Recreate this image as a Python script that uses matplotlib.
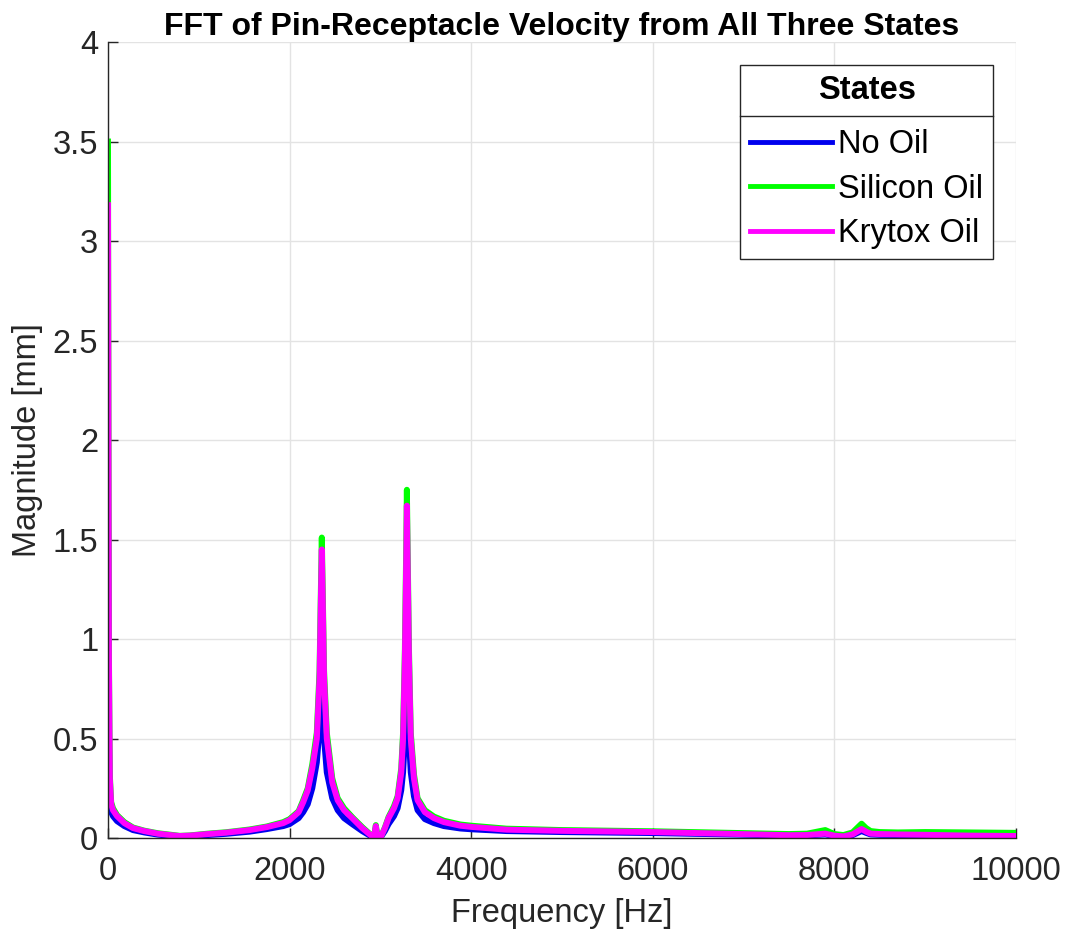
import numpy as np
import matplotlib.pyplot as plt
from matplotlib.lines import Line2D

plt.rcParams['font.family'] = ['Liberation Sans', 'DejaVu Sans']

# frequency points [Hz] (shared by the three states)
freq = [0, 10, 20, 35, 55, 100, 180, 275, 400, 550, 700, 790, 900, 1100, 1300,
        1560, 1750, 1930, 2000, 2100, 2150, 2200, 2250, 2300, 2330, 2345, 2355,
        2365, 2380, 2410, 2470, 2530, 2600, 2690, 2800, 2900, 2930, 2950, 2970,
        3000, 3050, 3090, 3150, 3190, 3230, 3250, 3270, 3285, 3292, 3300, 3315,
        3335, 3370, 3410, 3490, 3590, 3700, 3880, 4000, 4390, 5000, 6000, 6960,
        7500, 7700, 7900, 8000, 8100, 8200, 8300, 8350, 8400, 8500, 8700, 9000,
        9500, 10000]

# magnitudes [mm]
no_oil = [1.72, 0.5, 0.2, 0.13, 0.11, 0.085, 0.06, 0.04, 0.028, 0.017, 0.01, 0.007,
          0.008, 0.015, 0.021, 0.032, 0.045, 0.06, 0.07, 0.1, 0.13, 0.17, 0.25, 0.38,
          0.55, 0.8, 1.0, 0.8, 0.5, 0.33, 0.2, 0.14, 0.1, 0.07, 0.035, 0.008, 0.0,
          0.05, 0.0, 0.0, 0.035, 0.07, 0.11, 0.15, 0.24, 0.33, 0.5, 0.75, 0.9,
          0.75, 0.5, 0.33, 0.21, 0.14, 0.095, 0.075, 0.06, 0.048, 0.044, 0.035,
          0.03, 0.025, 0.017, 0.012, 0.013, 0.018, 0.01, 0.006, 0.014, 0.035,
          0.026, 0.018, 0.016, 0.015, 0.013, 0.01, 0.008]
silicon_oil = [3.5, 0.95, 0.32, 0.18, 0.15, 0.115, 0.08, 0.053, 0.037, 0.024, 0.016,
               0.011, 0.013, 0.022, 0.029, 0.043, 0.058, 0.08, 0.095, 0.135, 0.19,
               0.25, 0.37, 0.53, 0.84, 1.25, 1.51, 1.25, 0.84, 0.53, 0.3, 0.2, 0.15,
               0.105, 0.055, 0.014, 0.0, 0.065, 0.0, 0.0, 0.053, 0.105, 0.16, 0.21,
               0.35, 0.53, 0.95, 1.47, 1.75, 1.47, 0.95, 0.53, 0.32, 0.2, 0.14, 0.108,
               0.087, 0.068, 0.062, 0.047, 0.04, 0.034, 0.025, 0.02, 0.022, 0.04,
               0.02, 0.015, 0.028, 0.072, 0.05, 0.035, 0.03, 0.028, 0.03, 0.028, 0.026]
krytox_oil = [3.18, 0.9, 0.3, 0.17, 0.14, 0.11, 0.075, 0.05, 0.035, 0.022, 0.014, 0.01,
              0.012, 0.02, 0.027, 0.04, 0.055, 0.075, 0.09, 0.13, 0.18, 0.24, 0.35,
              0.5, 0.8, 1.2, 1.45, 1.2, 0.8, 0.5, 0.28, 0.19, 0.14, 0.1, 0.05, 0.012,
              0.0, 0.06, 0.0, 0.0, 0.05, 0.1, 0.15, 0.2, 0.33, 0.5, 0.9, 1.4, 1.67,
              1.4, 0.9, 0.5, 0.3, 0.19, 0.13, 0.1, 0.08, 0.062, 0.056, 0.042, 0.036,
              0.03, 0.02, 0.014, 0.015, 0.022, 0.012, 0.008, 0.018, 0.045, 0.032,
              0.022, 0.02, 0.018, 0.016, 0.012, 0.01]

fig = plt.figure(figsize=(10.66, 9.30), dpi=100)
ax = fig.add_axes([0.1013, 0.0989, 0.8517, 0.8559])

ax.plot(freq, no_oil, color='#0000ee', lw=4.3, label='No Oil')
ax.plot(freq, silicon_oil, color='#00ff00', lw=4.3, label='Silicon Oil')
ax.plot(freq, krytox_oil, color='#ff00ff', lw=4.3, label='Krytox Oil')

ax.set_xlim(0, 10000)
ax.set_ylim(0, 4)
ax.set_xticks(np.arange(0, 10001, 2000))
ax.set_yticks(np.arange(0, 4.01, 0.5))
ax.set_yticklabels(['0', '0.5', '1', '1.5', '2', '2.5', '3', '3.5', '4'])
ax.grid(True, color='#e3e3e3', lw=1)
ax.set_axisbelow(True)
for s in ['top', 'right']:
    ax.spines[s].set_visible(False)
for s in ['left', 'bottom']:
    ax.spines[s].set_color('#262626')
    ax.spines[s].set_linewidth(1)
ax.tick_params(direction='in', length=7, width=1, colors='#262626',
               labelsize=23.5, labelcolor='#262626')
ax.tick_params(axis='x', pad=13)
ax.tick_params(axis='y', pad=7)

ax.set_xlabel('Frequency [Hz]', fontsize=23.5, color='#262626', labelpad=8)
ax.set_ylabel('Magnitude [mm]', fontsize=23.5, color='#262626', labelpad=7)
ax.set_title('FFT of Pin-Receptacle Velocity from All Three States',
             fontsize=23, fontweight='bold', pad=5)

leg = ax.legend(loc='upper right', bbox_to_anchor=(993 / 1066, 1 - 65 / 930),
                bbox_transform=fig.transFigure, fontsize=23.5,
                title='States', title_fontproperties={'size': 23.5, 'weight': 'bold'},
                frameon=True, fancybox=False, edgecolor='#262626', framealpha=1,
                handlelength=2.5, handletextpad=0.2, borderpad=0.3,
                labelspacing=0.41, borderaxespad=0)
leg.get_frame().set_linewidth(1)
for h in leg.get_lines():
    h.set_linewidth(3.5)
# more room between the title and the entries
leg._legend_box.sep = 17

# separator line under the legend title
fig.canvas.draw()
fb = leg.get_frame().get_window_extent()
tb = leg.get_title().get_window_extent()
first = leg.get_texts()[0].get_window_extent()
ysep = (tb.y0 + first.y1) / 2 + 2
inv = fig.transFigure.inverted()
(x0, y0) = inv.transform((fb.x0, ysep))
(x1, _) = inv.transform((fb.x1, ysep))
fig.add_artist(Line2D([x0, x1], [y0, y0], color='#262626', lw=1))

fig.savefig('out.png', dpi=100)
